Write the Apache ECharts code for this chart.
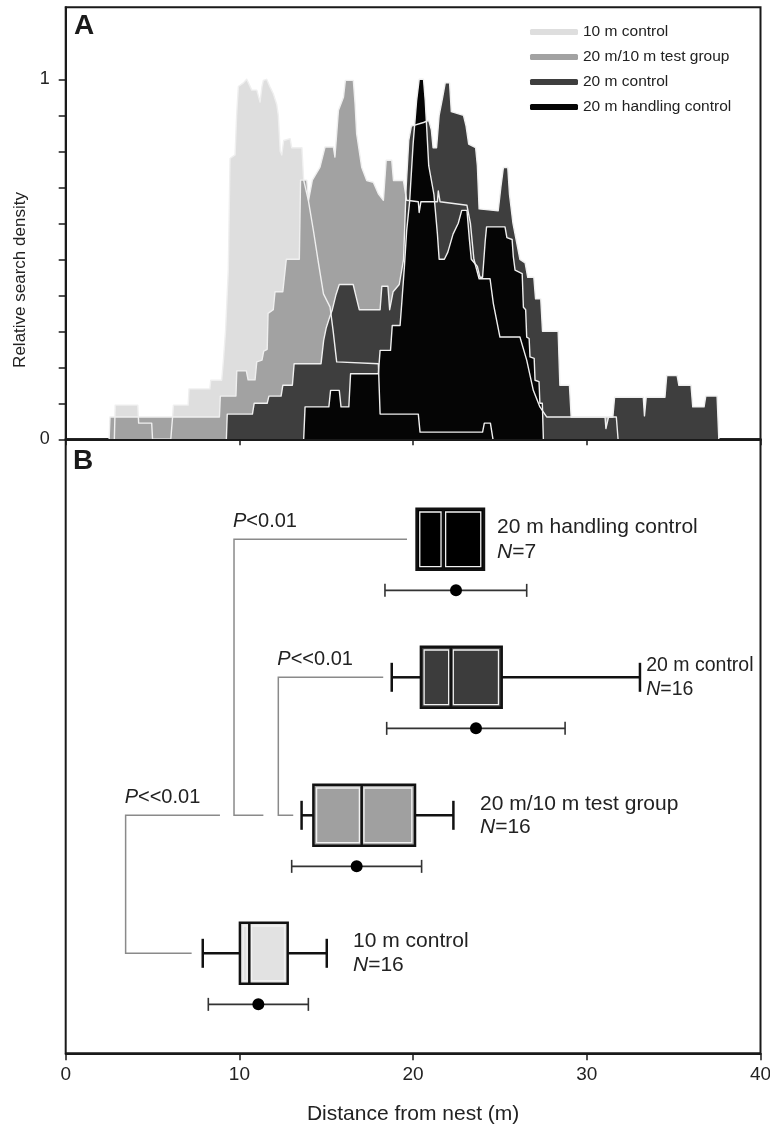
<!DOCTYPE html>
<html>
<head>
<meta charset="utf-8">
<script src="https://cdn.jsdelivr.net/npm/echarts@6/dist/echarts.min.js"></script>
<style>
html,body{margin:0;padding:0;background:#fff;}
#chart{width:770px;height:1126px;}
</style>
</head>
<body>
<div id="chart"></div>
<script>
// ---------- DATA ----------
const groups = ['10 m control', '20 m/10 m test group', '20 m control', '20 m handling control'];
const groupN = [16, 16, 16, 7];
const xTicks = [0, 10, 20, 30, 40];
const yTicksA = [0, 0.1, 0.2, 0.3, 0.4, 0.5, 0.6, 0.7, 0.8, 0.9, 1.0];
const yLabelsA = [0, 1];

// Panel A: relative search density profiles [distance (m), density]
const density10 = [[2.8,0],[2.85,0.095],[4.15,0.095],[4.2,0.045],[4.95,0.045],[5.0,0],[6.05,0],[6.15,0.06],[6.2,0.095],[7.05,0.095],[7.1,0.14],[8.3,0.14],[8.35,0.164],[8.98,0.164],[9.08,0.22],[9.2,0.3],[9.36,0.47],[9.46,0.78],[9.75,0.79],[9.84,0.9],[9.94,0.98],[10.23,0.99],[10.42,1.0],[10.52,0.99],[10.71,0.97],[11.0,0.97],[11.19,0.937],[11.3,0.98],[11.38,0.997],[11.57,1.0],[11.76,0.979],[11.95,0.96],[12.15,0.93],[12.24,0.9],[12.35,0.8],[12.44,0.79],[12.55,0.83],[12.92,0.835],[13.01,0.81],[13.6,0.81],[13.7,0.72],[13.97,0.664],[14.26,0.58],[14.55,0.49],[14.84,0.404],[15.22,0.367],[15.4,0.3],[15.6,0.215],[18.0,0.21],[18.1,0.07],[20.3,0.07],[20.4,0.02],[24.0,0.02],[24.1,0.045],[24.45,0.045],[24.6,0]];
const densityTest = [[2.5,0],[2.55,0.062],[8.85,0.062],[8.9,0.12],[9.8,0.12],[9.85,0.19],[10.4,0.19],[10.5,0.165],[10.9,0.165],[11.0,0.215],[11.3,0.22],[11.4,0.245],[11.6,0.25],[11.65,0.35],[11.95,0.36],[12.05,0.41],[12.5,0.41],[12.7,0.5],[13.45,0.5],[13.52,0.72],[13.88,0.72],[13.98,0.664],[14.07,0.664],[14.2,0.72],[14.64,0.756],[14.93,0.812],[15.41,0.812],[15.5,0.784],[15.7,0.913],[15.99,0.95],[16.1,0.997],[16.56,0.997],[16.66,0.932],[16.75,0.849],[17.04,0.756],[17.33,0.719],[17.71,0.714],[18.0,0.682],[18.29,0.664],[18.45,0.775],[18.77,0.775],[18.87,0.719],[19.44,0.719],[19.63,0.664],[20.3,0.66],[20.35,0.63],[20.45,0.66],[21.4,0.66],[21.45,0.69],[21.55,0.66],[23.1,0.65],[23.3,0.6],[23.5,0.5],[23.8,0.446],[24.43,0.446],[24.62,0.377],[25.0,0.284],[26.15,0.284],[26.54,0.22],[26.92,0.136],[27.3,0.09],[27.69,0.062],[31.7,0.062],[31.8,0]];
const density20 = [[9.25,0],[9.3,0.07],[10.75,0.07],[10.85,0.1],[11.6,0.1],[11.7,0.12],[12.4,0.12],[12.5,0.15],[13.05,0.15],[13.15,0.21],[14.7,0.21],[14.85,0.275],[15.0,0.31],[15.2,0.34],[15.35,0.36],[15.55,0.4],[15.75,0.43],[16.55,0.43],[16.7,0.4],[16.9,0.36],[18.1,0.36],[18.2,0.425],[18.55,0.425],[18.65,0.36],[18.85,0.41],[19.2,0.43],[19.45,0.5],[19.6,0.7],[19.75,0.83],[19.9,0.87],[20.6,0.88],[20.9,0.886],[21.05,0.86],[21.15,0.81],[21.35,0.81],[21.5,0.9],[21.7,0.95],[21.85,0.99],[22.1,0.99],[22.2,0.91],[22.9,0.9],[23.05,0.87],[23.2,0.82],[23.6,0.81],[23.7,0.76],[23.8,0.64],[24.9,0.635],[25.05,0.7],[25.2,0.755],[25.45,0.755],[25.55,0.68],[25.75,0.6],[25.95,0.55],[26.15,0.5],[26.45,0.49],[26.6,0.45],[26.95,0.45],[27.05,0.39],[27.35,0.39],[27.45,0.3],[28.35,0.3],[28.45,0.15],[29.0,0.15],[29.1,0.062],[31.05,0.062],[31.1,0.03],[31.2,0.03],[31.25,0.062],[31.5,0.062],[31.6,0.117],[33.25,0.117],[33.32,0.065],[33.42,0.117],[34.5,0.117],[34.6,0.177],[35.2,0.177],[35.3,0.15],[36.0,0.15],[36.1,0.09],[36.75,0.09],[36.85,0.12],[37.5,0.12],[37.6,0]];
const densityHandling = [[13.7,0],[13.78,0.09],[15.15,0.09],[15.25,0.136],[15.75,0.136],[15.85,0.09],[16.3,0.09],[16.4,0.182],[18.0,0.182],[18.1,0.247],[18.7,0.247],[18.8,0.316],[19.25,0.316],[19.35,0.38],[19.5,0.48],[19.63,0.58],[19.8,0.66],[20.0,0.82],[20.2,0.94],[20.35,1.0],[20.6,1.0],[20.7,0.94],[20.9,0.76],[21.2,0.68],[21.4,0.57],[21.5,0.5],[21.8,0.5],[22.0,0.52],[22.3,0.57],[22.6,0.6],[22.8,0.636],[23.1,0.636],[23.25,0.55],[23.35,0.5],[23.7,0.48],[23.85,0.45],[24.0,0.45],[24.15,0.55],[24.23,0.59],[25.29,0.59],[25.4,0.56],[25.7,0.555],[25.77,0.507],[25.87,0.47],[26.28,0.46],[26.35,0.367],[26.48,0.36],[26.54,0.284],[26.68,0.28],[26.73,0.229],[26.97,0.225],[27.02,0.164],[27.25,0.16],[27.3,0.1],[27.44,0.1],[27.5,0]];

// Panel B: box statistics [lower whisker, Q1, median, Q3, upper whisker] (m)
const boxStats10 = [7.89, 10.03, 10.57, 12.78, 15.03];
const boxStatsTest = [13.58, 14.26, 17.04, 20.11, 22.32];
const boxStats20 = [18.77, 20.45, 22.18, 25.1, 33.06];
const boxStatsHandling = [20.2, 20.2, 21.74, 24.08, 24.08];
// mean with error range [low, mean, high] (m)
const meanCI10 = [8.21, 11.09, 13.97];
const meanCITest = [13.01, 16.75, 20.49];
const meanCI20 = [18.48, 23.62, 28.75];
const meanCIHandling = [18.38, 22.47, 26.54];
// significance labels
const pTexts = ['P<<0.01', 'P<<0.01', 'P<0.01'];

// ---------- LAYOUT / STYLE ----------
const rowPos = [1, 2, 3, 4];
const meanOffset = 0.37;
const labelAt = [16.54, 23.85, 33.42, 24.83];
const labelFont = [21, 21, 19.5, 21];
const labelLine = [24, 23, 24, 25];
const bracketGeom = [
  {x: 3.45, top: 2, topEnd: 8.88, bottom: 1, bottomEnd: 7.25},
  {x: 12.24, top: 3, topEnd: 18.28, bottom: 2, bottomEnd: 13.1},
  {x: 9.69, top: 4, topEnd: 19.65, bottom: 2, bottomEnd: 11.38}
];
const fillColors = ['#dedede', '#a2a2a2', '#3e3e3e', '#050505'];
const boxColors = ['#e2e2e2', '#a0a0a0', '#3c3c3c', '#000000'];
const AX = '#1a1a1a';
const TXT = '#222222';
const FONT = '"Liberation Sans", Arial, Helvetica, sans-serif';

const densities = [density10, densityTest, density20, densityHandling];
const boxStats = [boxStats10, boxStatsTest, boxStats20, boxStatsHandling];
const meanCIs = [meanCI10, meanCITest, meanCI20, meanCIHandling];

const chart = echarts.init(document.getElementById('chart'), null, {renderer: 'canvas'});

function renderBox(params, api) {
  const i = params.dataIndex;
  const y = api.value(0);
  const wl = api.value(1), q1 = api.value(2), md = api.value(3), q3 = api.value(4), wh = api.value(5);
  const yc = api.coord([q1, y])[1];
  const x1 = api.coord([q1, y])[0], x3 = api.coord([q3, y])[0], xm = api.coord([md, y])[0];
  const xl = api.coord([wl, y])[0], xh = api.coord([wh, y])[0];
  const h = 61, cap = 29;
  const ls = {stroke: '#111', lineWidth: 2.5};
  const ch = [];
  if (xl < x1 - 0.5) {
    ch.push({type: 'line', shape: {x1: xl, y1: yc, x2: x1, y2: yc}, style: ls});
    ch.push({type: 'line', shape: {x1: xl, y1: yc - cap / 2, x2: xl, y2: yc + cap / 2}, style: ls});
  }
  if (xh > x3 + 0.5) {
    ch.push({type: 'line', shape: {x1: x3, y1: yc, x2: xh, y2: yc}, style: ls});
    ch.push({type: 'line', shape: {x1: xh, y1: yc - cap / 2, x2: xh, y2: yc + cap / 2}, style: ls});
  }
  ch.push({type: 'rect', shape: {x: x1, y: yc - h / 2, width: x3 - x1, height: h}, style: {fill: boxColors[i], stroke: '#111', lineWidth: 2.5}});
  ch.push({type: 'rect', shape: {x: x1 + 3.2, y: yc - h / 2 + 3.2, width: xm - x1 - 5.5, height: h - 6.4}, style: {fill: 'none', stroke: '#f2f2f2', lineWidth: 1.3}});
  ch.push({type: 'rect', shape: {x: xm + 2.3, y: yc - h / 2 + 3.2, width: x3 - xm - 5.5, height: h - 6.4}, style: {fill: 'none', stroke: '#f2f2f2', lineWidth: 1.3}});
  ch.push({type: 'line', shape: {x1: xm, y1: yc - h / 2, x2: xm, y2: yc + h / 2}, style: ls});
  const lx = api.coord([labelAt[i], y])[0];
  const fs = labelFont[i], lh = labelLine[i];
  ch.push({type: 'text', x: lx, y: yc, style: {
    text: '{a|' + groups[i] + '}\n{i|N}{a|=' + groupN[i] + '}',
    align: 'left', verticalAlign: 'middle',
    rich: {
      a: {fontSize: fs, fontFamily: FONT, fill: TXT, color: TXT, lineHeight: lh},
      i: {fontSize: fs, fontFamily: FONT, fontStyle: 'italic', fill: TXT, color: TXT, lineHeight: lh}
    }
  }});
  return {type: 'group', children: ch};
}

function renderMean(params, api) {
  const y = api.value(0);
  const lo = api.coord([api.value(1), y]);
  const mid = api.coord([api.value(2), y]);
  const hi = api.coord([api.value(3), y]);
  const cap = 13;
  const st = {stroke: '#333', lineWidth: 1.6};
  return {type: 'group', children: [
    {type: 'line', shape: {x1: lo[0], y1: lo[1], x2: hi[0], y2: hi[1]}, style: st},
    {type: 'line', shape: {x1: lo[0], y1: lo[1] - cap / 2, x2: lo[0], y2: lo[1] + cap / 2}, style: st},
    {type: 'line', shape: {x1: hi[0], y1: hi[1] - cap / 2, x2: hi[0], y2: hi[1] + cap / 2}, style: st},
    {type: 'circle', shape: {cx: mid[0], cy: mid[1], r: 6}, style: {fill: '#000'}}
  ]};
}

function renderBracket(params, api) {
  const i = params.dataIndex;
  const x = api.value(0), yt = api.value(1), xte = api.value(2), yb = api.value(3), xbe = api.value(4);
  const pTE = api.coord([xte, yt]), pT = api.coord([x, yt]), pB = api.coord([x, yb]), pBE = api.coord([xbe, yb]);
  const t = pTexts[i];
  return {type: 'group', children: [
    {type: 'polyline', shape: {points: [pTE, pT, pB, pBE]}, style: {fill: 'none', stroke: '#8a8a8a', lineWidth: 1.5}},
    {type: 'text', x: pT[0] - 1, y: pT[1] - 8, style: {
      text: '{i|' + t.charAt(0) + '}{a|' + t.slice(1) + '}',
      align: 'left', verticalAlign: 'bottom',
      rich: {
        a: {fontSize: 20, fontFamily: FONT, fill: TXT, color: TXT},
        i: {fontSize: 20, fontFamily: FONT, fontStyle: 'italic', fill: TXT, color: TXT}
      }
    }}
  ]};
}

const fillSeries = groups.map((g, i) => ({
  type: 'line', name: g, xAxisIndex: 0, yAxisIndex: 0,
  data: densities[i], symbol: 'none', showSymbol: false, silent: true,
  lineStyle: {width: 0, opacity: 0},
  itemStyle: {color: fillColors[i]},
  areaStyle: {color: fillColors[i], opacity: 1},
  z: 2 + i
}));
const outlineSeries = groups.map((g, i) => ({
  type: 'line', xAxisIndex: 0, yAxisIndex: 0,
  data: densities[i], symbol: 'none', showSymbol: false, silent: true,
  lineStyle: {color: '#efefef', width: 1.4, join: 'round'},
  z: 8
}));

const option = {
  animation: false,
  backgroundColor: '#ffffff',
  textStyle: {fontFamily: FONT},
  title: [
    {text: 'A', left: 74, top: 12, padding: 0, textStyle: {fontSize: 28, fontWeight: 'bold', color: AX, fontFamily: FONT}},
    {text: 'B', left: 73, top: 447, padding: 0, textStyle: {fontSize: 28, fontWeight: 'bold', color: AX, fontFamily: FONT}}
  ],
  legend: {
    data: groups.map((g, i) => ({name: g, itemStyle: {color: fillColors[i], borderWidth: 0}})),
    orient: 'vertical', left: 530, top: 22.5, padding: 0,
    itemWidth: 48, itemHeight: 6, itemGap: 6, icon: 'roundRect',
    textStyle: {fontSize: 15.5, color: TXT, lineHeight: 19, fontFamily: FONT},
    selectedMode: false
  },
  graphic: [
    {type: 'text', x: 20, y: 280, rotation: Math.PI / 2, style: {text: 'Relative search density', font: '17px ' + FONT, fill: TXT, align: 'center', verticalAlign: 'middle'}}
  ],
  grid: [
    {left: 65.7, top: 7.3, width: 694.8, height: 432, show: true, borderColor: AX, borderWidth: 2, backgroundColor: 'transparent', containLabel: false, outerBoundsMode: 'none'},
    {left: 65.7, top: 439.3, width: 694.8, height: 614, show: true, borderColor: AX, borderWidth: 2, backgroundColor: 'transparent', containLabel: false, outerBoundsMode: 'none'}
  ],
  xAxis: [
    {gridIndex: 0, type: 'value', min: xTicks[0], max: xTicks[xTicks.length - 1], interval: 10, z: 10,
     axisLine: {show: true, lineStyle: {color: AX, width: 2}},
     axisTick: {show: true, length: 6, lineStyle: {color: AX, width: 1.5}},
     axisLabel: {show: false}, splitLine: {show: false}},
    {gridIndex: 1, type: 'value', min: xTicks[0], max: xTicks[xTicks.length - 1], interval: 10, z: 10,
     axisLine: {show: true, lineStyle: {color: AX, width: 2}},
     axisTick: {show: true, length: 7, lineStyle: {color: AX, width: 1.5}},
     axisLabel: {show: true, fontSize: 19, color: TXT, margin: 12, fontFamily: FONT},
     splitLine: {show: false},
     name: 'Distance from nest (m)', nameLocation: 'middle', nameGap: 50,
     nameTextStyle: {fontSize: 21, color: TXT, fontFamily: FONT}}
  ],
  yAxis: [
    {gridIndex: 0, type: 'value', min: 0, max: 1.2, z: 10,
     axisLine: {show: true, lineStyle: {color: AX, width: 2}},
     axisTick: {show: true, length: 7, customValues: yTicksA, lineStyle: {color: AX, width: 1.5}},
     axisLabel: {show: true, customValues: yLabelsA, fontSize: 18, color: TXT, margin: 16, fontFamily: FONT, formatter: v => String(Math.round(v))},
     splitLine: {show: false}},
    {gridIndex: 1, type: 'value', min: 1 - 100 / 138, max: 1 - 100 / 138 + 614 / 138, show: false}
  ],
  series: [
    ...fillSeries,
    ...outlineSeries,
    {type: 'custom', xAxisIndex: 1, yAxisIndex: 1, silent: true, z: 5,
     renderItem: renderBracket,
     data: bracketGeom.map(b => [b.x, b.top, b.topEnd, b.bottom, b.bottomEnd])},
    {type: 'custom', xAxisIndex: 1, yAxisIndex: 1, silent: true, z: 6,
     renderItem: renderBox,
     data: groups.map((g, i) => [rowPos[i], ...boxStats[i]])},
    {type: 'custom', xAxisIndex: 1, yAxisIndex: 1, silent: true, z: 6,
     renderItem: renderMean,
     data: groups.map((g, i) => [rowPos[i] - meanOffset, ...meanCIs[i]])}
  ]
};
chart.setOption(option);
</script>
</body>
</html>
